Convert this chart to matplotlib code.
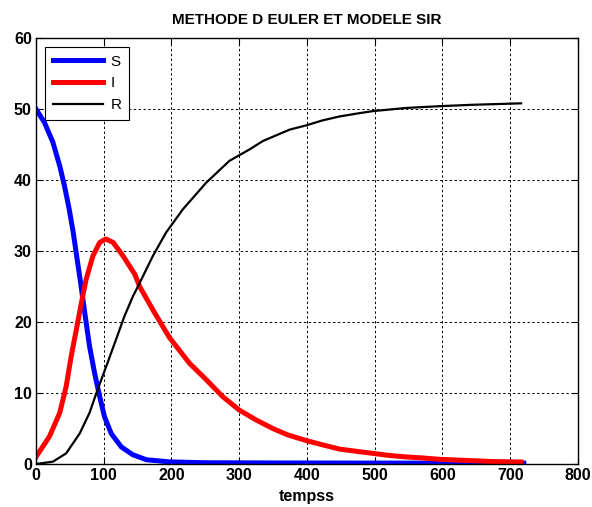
import matplotlib.pyplot as plt
import numpy as np

# sampled points of the Euler/SIR solution (time, value)
t_S = [0, 12.5, 25, 35, 42, 49, 55, 60, 65, 72, 79, 86.5, 94, 101, 111, 126, 143, 163, 197,
       250, 350, 500, 720]
S = [50.0, 48.1, 45.3, 42.0, 39.2, 35.9, 32.6, 29.3, 26.1, 21.3, 16.6, 12.8, 9.5, 6.7, 4.3,
     2.4, 1.3, 0.6, 0.3, 0.18, 0.15, 0.13, 0.12]

t_I = [0, 20, 35, 44.5, 52, 59.5, 67, 74, 84, 94, 103, 114, 128.5, 146, 153, 172, 197, 226.5,
       251, 275.5, 300, 325, 349.5, 371.5, 399, 423, 448, 472, 497, 522, 546, 571, 596, 620,
       645, 669, 716]
I = [1.0, 3.9, 7.2, 10.9, 15.2, 18.9, 22.7, 26.0, 29.3, 31.2, 31.7, 31.2, 29.3, 26.7, 25.0,
     21.8, 17.8, 14.2, 11.9, 9.5, 7.6, 6.2, 5.0, 4.1, 3.3, 2.7, 2.1, 1.8, 1.5, 1.2, 1.0, 0.85,
     0.66, 0.56, 0.47, 0.36, 0.28]

t_R = [0, 25, 44.5, 64.5, 79, 91, 103.5, 118, 130.5, 143, 154, 172.5, 192, 217, 251, 285.5,
       315, 335, 374.5, 399, 423, 448, 473, 497, 546, 596, 645, 716]
R = [0.0, 0.33, 1.5, 4.3, 7.2, 10.5, 13.7, 17.5, 20.8, 23.6, 25.7, 29.3, 32.6, 35.9, 39.6, 42.7,
     44.3, 45.5, 47.1, 47.7, 48.4, 48.95, 49.35, 49.7, 50.15, 50.4, 50.6, 50.8]

plt.rcParams['font.family'] = ['Liberation Sans', 'DejaVu Sans']

fig = plt.figure(figsize=(5.92, 5.07), dpi=100)
ax = fig.add_axes([0.0608, 0.0848, 0.9155, 0.8402])

ax.plot(t_S, S, color='blue', lw=3.6, label='S', solid_joinstyle='round')
ax.plot(t_I, I, color='red', lw=3.6, label='I', solid_joinstyle='round')
ax.plot(t_R, R, color='black', lw=1.6, label='R', solid_joinstyle='round')

ax.set_xlim(0, 800)
ax.set_ylim(0, 60)
ax.set_xticks(np.arange(0, 801, 100))
ax.set_yticks(np.arange(0, 61, 10))
ax.grid(True, color='black', linestyle=(0, (2.5, 2.5)), linewidth=0.7)
ax.tick_params(direction='in', top=True, right=True, length=4, labelsize=11.5, pad=3)
for lbl in ax.get_xticklabels() + ax.get_yticklabels():
    lbl.set_fontweight('bold')
for sp in ax.spines.values():
    sp.set_linewidth(1.0)

ax.set_title('METHODE D EULER ET MODELE SIR', fontsize=11, fontweight='bold', pad=10)
ax.set_xlabel('tempss', fontsize=11.5, fontweight='bold', labelpad=4)

leg = ax.legend(loc='upper left', bbox_to_anchor=(0.0, 1.0), borderaxespad=0.6,
                fancybox=False, framealpha=1, edgecolor='black', fontsize=11,
                handlelength=3.3, labelspacing=0.5, borderpad=0.5, handletextpad=0.5)
leg.get_frame().set_linewidth(0.8)

fig.savefig('out.png', dpi=100)
